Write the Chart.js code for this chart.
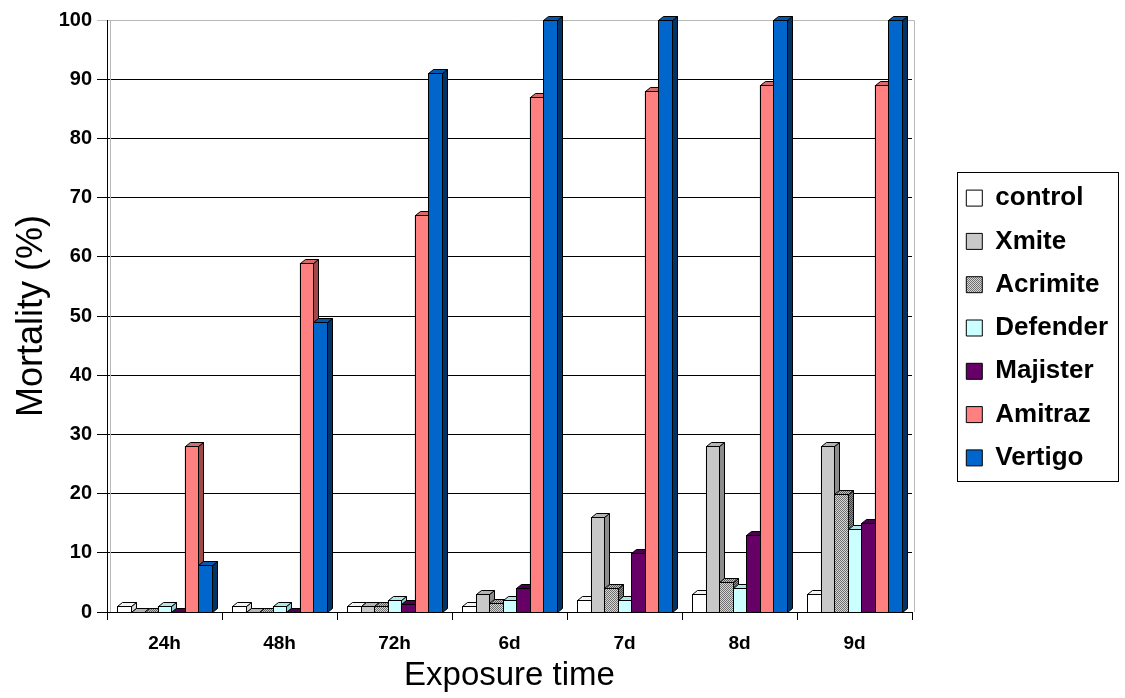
<!DOCTYPE html>
<html>
<head>
<meta charset="utf-8">
<script src="https://cdn.jsdelivr.net/npm/chart.js@4.4.1/dist/chart.umd.min.js"></script>
<style>
  html, body { margin: 0; padding: 0; background: #fff; }
</style>
</head>
<body>
<canvas id="chart" width="1125" height="698"></canvas>
<script>
const labels = ['24h', '48h', '72h', '6d', '7d', '8d', '9d'];
const seriesNames = ['control', 'Xmite', 'Acrimite', 'Defender', 'Majister', 'Amitraz', 'Vertigo'];

const control  = [1, 1, 1, 1, 2, 3, 3];
const xmite    = [0, 0, 1, 3, 16, 28, 28];
const acrimite = [0, 0, 1, 1.5, 4, 5, 20];
const defender = [1, 1, 2, 2, 2, 4, 14];
const majister = [0, 0, 1.3, 4, 10, 13, 15];
const amitraz  = [28, 59, 67, 87, 88, 89, 89];
const vertigo  = [8, 49, 91, 100, 100, 100, 100];

const seriesValues = [control, xmite, acrimite, defender, majister, amitraz, vertigo];

// dotted gray fill like the old excel pattern
function dots(light, dark) {
    const c = document.createElement('canvas');
    c.width = 2; c.height = 2;
    const g = c.getContext('2d');
    g.fillStyle = light; g.fillRect(0, 0, 2, 2);
    g.fillStyle = dark; g.fillRect(0, 0, 1, 1); g.fillRect(1, 1, 1, 1);
    return document.getElementById('chart').getContext('2d').createPattern(c, 'repeat');
}

const frontColors = ['#ffffff', '#c8c8c8', dots('#d8d8d8', '#6e6e6e'), '#ccffff', '#660066', '#ff8080', '#0066cc'];
const topColors   = ['#f4f4f4', '#b4b4b4', dots('#c0c0c0', '#5a5a5a'), '#b0e6e6', '#4d004d', '#d86a6a', '#0058b0'];
const sideColors  = ['#d8d8d8', '#8c8c8c', dots('#909090', '#404040'), '#99cccc', '#330033', '#a04848', '#003366'];

const DX = 5, DY = 4;

const bars3d = {
    id: 'bars3d',
    afterLayout(chart) {
        // legend block sits a bit below the plot centre in the original
        chart.legend.top += 12;
        chart.legend.bottom += 12;
    },
    beforeDatasetsDraw(chart) {
        const { ctx, chartArea: a } = chart;
        ctx.save();
        ctx.strokeStyle = '#b8b8b8';
        ctx.lineWidth = 1;
        ctx.beginPath();
        ctx.moveTo(a.left + 3.5, a.bottom);
        ctx.lineTo(a.left + 3.5, a.top + 0.5);
        ctx.lineTo(a.right + 2.5, a.top + 0.5);
        ctx.lineTo(a.right + 2.5, a.bottom);
        ctx.stroke();
        ctx.restore();
    },
    afterDatasetsDraw(chart) {
        const ctx = chart.ctx;
        ctx.save();
        ctx.lineWidth = 1;
        ctx.strokeStyle = '#000';
        for (let j = 0; j < labels.length; j++) {
            for (let i = 0; i < seriesValues.length; i++) {
                const bar = chart.getDatasetMeta(i).data[j];
                const { x, y, base, width } = bar.getProps(['x', 'y', 'base', 'width'], true);
                const l = Math.round(x - width / 2) + 0.5;
                const r = Math.round(x + width / 2) + 0.5;
                const t = Math.round(y) + 0.5;
                const b = Math.round(base) + 0.5;

                // side
                ctx.beginPath();
                ctx.moveTo(r, t);
                ctx.lineTo(r + DX, t - DY);
                ctx.lineTo(r + DX, b - DY);
                ctx.lineTo(r, b);
                ctx.closePath();
                ctx.fillStyle = sideColors[i];
                ctx.fill();
                ctx.stroke();

                // top
                ctx.beginPath();
                ctx.moveTo(l, t);
                ctx.lineTo(l + DX, t - DY);
                ctx.lineTo(r + DX, t - DY);
                ctx.lineTo(r, t);
                ctx.closePath();
                ctx.fillStyle = topColors[i];
                ctx.fill();
                ctx.stroke();

                // front
                if (b - t > 0) {
                    ctx.fillStyle = frontColors[i];
                    ctx.fillRect(l, t, r - l, b - t);
                    ctx.strokeRect(l, t, r - l, b - t);
                }
            }
        }
        ctx.restore();
    }
};

const legendBox = {
    id: 'legendBox',
    afterDraw(chart) {
        const boxes = chart.legend.legendHitBoxes;
        if (!boxes || !boxes.length) return;
        let left = Infinity, top = Infinity, right = -Infinity, bottom = -Infinity;
        boxes.forEach(h => {
            left = Math.min(left, h.left);
            top = Math.min(top, h.top);
            right = Math.max(right, h.left + h.width);
            bottom = Math.max(bottom, h.top + h.height);
        });
        const ctx = chart.ctx;
        ctx.save();
        ctx.strokeStyle = '#000';
        ctx.lineWidth = 1;
        const bl = Math.round(left - 9), bt = Math.round(top - 13);
        const br = Math.round(right + 10), bb = Math.round(bottom + 10);
        ctx.strokeRect(bl + 0.5, bt + 0.5, br - bl, bb - bt);
        ctx.restore();
    }
};

Chart.defaults.font.family = '"Liberation Sans", Arial, sans-serif';
Chart.defaults.color = '#000';

const datasets = seriesNames.map((name, i) => ({
    label: name,
    data: seriesValues[i],
    backgroundColor: frontColors[i],
    borderColor: '#000',
    borderWidth: 1,
    barPercentage: 1.0,
    categoryPercentage: 0.82
}));

new Chart(document.getElementById('chart'), {
    type: 'bar',
    data: { labels, datasets },
    options: {
        responsive: false,
        animation: false,
        layout: { padding: { top: 20, right: 7, bottom: 0, left: 0 } },
        plugins: {
            legend: {
                position: 'right',
                fullSize: false,
                labels: {
                    boxWidth: 16,
                    boxHeight: 16,
                    padding: 17.3,
                    color: '#000',
                    font: { size: 26, weight: 'bold' }
                }
            },
            tooltip: { enabled: false }
        },
        scales: {
            x: {
                grid: { display: true, drawOnChartArea: false, drawTicks: true, tickLength: 8, color: '#000', offset: true },
                border: { color: '#000' },
                ticks: { font: { size: 19, weight: 'bold' }, padding: 12 },
                title: { display: true, text: 'Exposure time', font: { size: 33 }, padding: { top: 0, bottom: 2 } },
                afterFit(s) { s.height = 86; }
            },
            y: {
                min: 0,
                max: 100,
                ticks: { stepSize: 10, font: { size: 20, weight: 'bold' }, padding: 5 },
                grid: { color: c => (c.tick && c.tick.value === 100) ? '#c0c0c0' : '#000', tickLength: 10 },
                border: { color: '#000' },
                title: { display: true, text: 'Mortality (%)', font: { size: 36 }, padding: { top: 10 } },
                afterFit(s) { s.width = 107; }
            },
            gap: {
                type: 'linear',
                axis: 'y',
                position: 'right',
                grid: { display: false },
                border: { display: false },
                ticks: { display: false },
                afterFit(s) { s.width = 37; }
            }
        }
    },
    plugins: [bars3d, legendBox]
});
</script>
</body>
</html>
